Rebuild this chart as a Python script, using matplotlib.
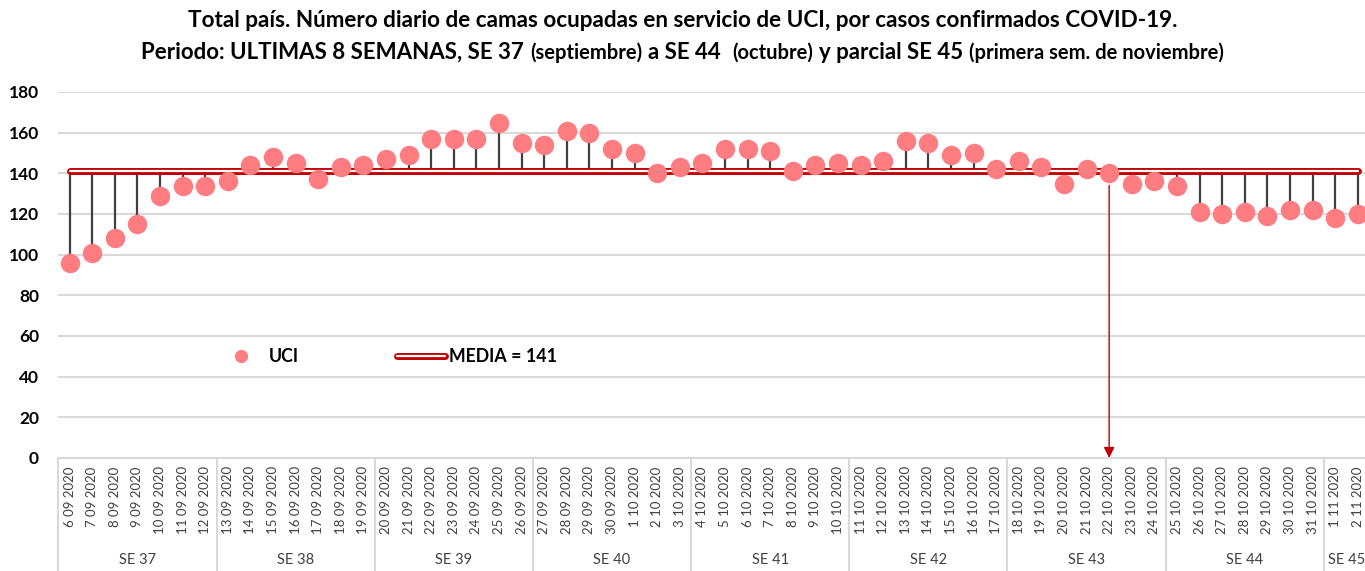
import numpy as np
import pandas as pd
import matplotlib
matplotlib.use('Agg')
import matplotlib.pyplot as plt
import matplotlib.patheffects as pe
import matplotlib.transforms as mtransforms

plt.rcParams['font.family'] = ['Lato', 'DejaVu Sans']

# data
dates = pd.date_range('2020-09-06', '2020-11-02', freq='D')
date_labels = [f'{d.day} {d.month:02d} {d.year}' for d in dates]

uci = [96, 101, 108, 115, 129, 134, 134, 136,
       144, 148, 145, 137, 143, 144, 147, 149, 157, 157,
       157, 165, 155, 154, 161, 160, 152, 150, 140, 143,
       145, 152, 152, 151, 141, 144, 145, 144, 146, 156,
       155, 149, 150, 142, 146, 143, 135, 142, 140, 135,
       136, 134, 121, 120, 121, 119, 122, 122, 118, 120]

media = 141

week_labels = ['SE 37', 'SE 38', 'SE 39', 'SE 40', 'SE 41', 'SE 42', 'SE 43', 'SE 44', 'SE 45']
week_sizes = [7, 7, 7, 7, 7, 7, 7, 7, 2]

arrow_day = '22 10 2020'

yticks = [0, 20, 40, 60, 80, 100, 120, 140, 160, 180]

title1 = 'Total país. Número diario de camas ocupadas en servicio de UCI, por casos confirmados COVID-19.'
title2 = [('Periodo: ULTIMAS 8 SEMANAS, SE 37', 16), ('(septiembre)', 14.5), ('a SE 44 ', 16),
          ('(octubre)', 14.5), ('y parcial SE 45', 16), ('(primera sem. de noviembre)', 14.5)]

W, H = 1365, 571
fig = plt.figure(figsize=(W / 100, H / 100), dpi=100)
ax = fig.add_axes((58.4 / W, 1 - 458 / H, 1310.6 / W, 366 / H))

x = np.arange(len(uci))
ax.set_xlim(-0.5, len(uci) - 0.5)
ax.set_ylim(0, 180)

# grid
for s in ['top', 'right', 'left']:
    ax.spines[s].set_visible(False)
ax.spines['bottom'].set_color('#D9D9D9')
ax.spines['bottom'].set_linewidth(1.5)
ax.set_yticks(yticks)
ax.yaxis.grid(True, color='#D9D9D9', lw=1.5)
ax.set_axisbelow(True)
ax.tick_params(axis='y', length=0, pad=14, labelsize=12.5)
for lab in ax.get_yticklabels():
    lab.set_fontweight('bold')

# stems from mean
ax.vlines(x, media, uci, color='#404040', lw=1.6, zorder=2)

# mean line (double red)
ax.plot(x, [media] * len(x), color='white', lw=1.6, solid_capstyle='round', zorder=3,
        label=f'MEDIA = {media}',
        path_effects=[pe.Stroke(linewidth=5, foreground='#C00000', capstyle='round'), pe.Normal()])

# points
ax.plot(x, uci, 'o', color='#FF7C80', ms=13, mec='#FF7C80', zorder=4, label='UCI')

# arrow
ai = date_labels.index(arrow_day)
ax.annotate('', xy=(ai, 0), xytext=(ai, uci[ai] - 6),
            arrowprops=dict(arrowstyle='-|>', color='#C00000', lw=1, mutation_scale=16,
                            shrinkA=0, shrinkB=0), zorder=5)

# x labels
ax.set_xticks(x)
ax.set_xticklabels(date_labels, rotation=90, fontsize=9.5, color='#404040', va='top')
ax.tick_params(axis='x', length=0, pad=6)

trans = mtransforms.blended_transform_factory(ax.transData, ax.transAxes)
edges = np.concatenate([[0], np.cumsum(week_sizes)]) - 0.5
for e in edges:
    ax.plot([e, e], [0, -0.32], color='#D9D9D9', lw=1.5, transform=trans, clip_on=False)
for i, lab in enumerate(week_labels):
    ax.text((edges[i] + edges[i + 1]) / 2, -0.279, lab, transform=trans, ha='center', va='center',
            fontsize=10.5, color='#404040')

# legend
handles, labels = ax.get_legend_handles_labels()
leg = fig.legend(handles[::-1], labels[::-1], loc='center left', bbox_to_anchor=(217.5 / W, 1 - 357 / H),
                 ncol=2, frameon=False, handlelength=2.7, handletextpad=0.2, columnspacing=5.5,
                 borderpad=0, borderaxespad=0, markerscale=0.65, prop={'weight': 'bold', 'size': 12.8})

# titles
fig.text(0.5, 1 - 27 / H, title1, ha='center', va='baseline', fontsize=16.2, fontweight='bold')
renderer = fig.canvas.get_renderer()
texts = [fig.text(0, 1 - 59 / H, s, fontsize=sz, fontweight='bold', va='baseline') for s, sz in title2]
widths = [t.get_window_extent(renderer).width for t in texts]
gap = 6
total = sum(widths) + gap * (len(widths) - 1)
xpos = (W - total) / 2
for t, w in zip(texts, widths):
    t.set_x(xpos / W)
    xpos += w + gap

fig.savefig('out.png', dpi=100)
